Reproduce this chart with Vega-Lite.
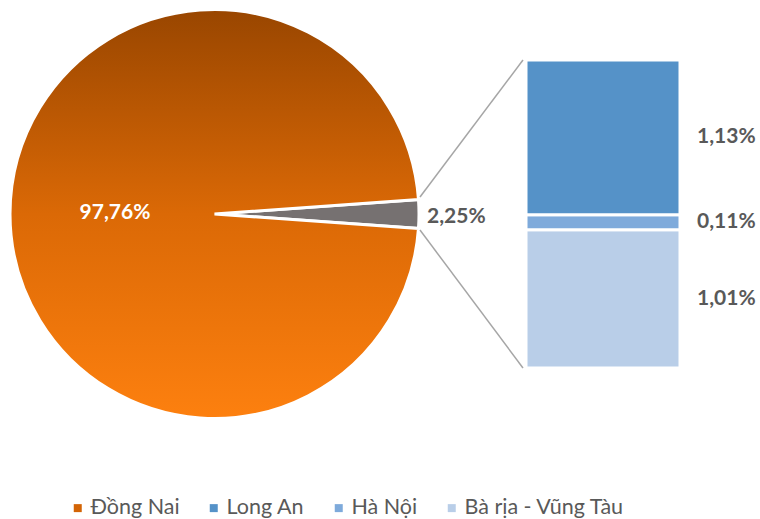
{
  "$schema": "https://vega.github.io/schema/vega-lite/v6.json",
  "width": 429,
  "height": 428,
  "autosize": {"type": "pad"},
  "padding": 0,
  "background": "white",
  "config": {"view": {"stroke": null}, "font": "Lato"},
  "datasets": {
    "tong": [
      {"ten": "Khác", "ty_le": 2.25, "nhan": "2,25%", "thu_tu": 1},
      {"ten": "Đồng Nai", "ty_le": 97.76, "nhan": "97,76%", "thu_tu": 2}
    ],
    "chi_tiet": [
      {"ten": "Bà rịa - Vũng Tàu", "ty_le": 1.01, "nhan": "1,01%", "nhom": "Khác", "thu_tu": 1},
      {"ten": "Hà Nội", "ty_le": 0.11, "nhan": "0,11%", "nhom": "Khác", "thu_tu": 2},
      {"ten": "Long An", "ty_le": 1.13, "nhan": "1,13%", "nhom": "Khác", "thu_tu": 3}
    ]
  },
  "resolve": {"scale": {"x": "independent"}},
  "layer": [
    {
      "data": {"name": "tong"},
      "mark": {"type": "arc", "outerRadius": 204.5, "stroke": "white", "strokeWidth": 3},
      "encoding": {
        "theta": {"field": "ty_le", "type": "quantitative", "stack": true, "scale": {"range": [1.50011, 7.7833]}},
        "order": {"field": "thu_tu", "type": "quantitative"},
        "detail": {"field": "ten", "type": "nominal"},
        "fill": {
          "condition": {
            "test": "datum.ten === 'Đồng Nai'",
            "value": {
              "gradient": "linear", "x1": 0, "y1": 0, "x2": 0, "y2": 1,
              "stops": [
                {"offset": 0, "color": "#994600"},
                {"offset": 0.5, "color": "#db6906"},
                {"offset": 1, "color": "#fd800f"}
              ]
            }
          },
          "value": "#767171"
        }
      }
    },
    {
      "data": {"name": "tong"},
      "mark": {"type": "text", "radius": 99.5, "dy": -1, "fontSize": 21, "fontWeight": "bold", "fill": "white", "align": "center", "baseline": "middle"},
      "encoding": {
        "theta": {"field": "ty_le", "type": "quantitative", "stack": true, "scale": {"range": [1.50011, 7.7833]}},
        "order": {"field": "thu_tu", "type": "quantitative"},
        "detail": {"field": "ten", "type": "nominal"},
        "text": {"condition": {"test": "datum.ten === 'Đồng Nai'", "field": "nhan"}, "value": ""}
      }
    },
    {
      "data": {"name": "tong"},
      "transform": [{"filter": "datum.ten !== 'Đồng Nai'"}],
      "mark": {"type": "text", "align": "left", "baseline": "middle", "dx": 7, "fontSize": 21, "fontWeight": "bold", "fill": "#595959"},
      "encoding": {
        "x": {"datum": 0, "type": "quantitative", "axis": null, "scale": {"domain": [0, 1], "range": [420, 523]}},
        "y": {"datum": 1.1, "type": "quantitative", "axis": null},
        "text": {"field": "nhan", "type": "nominal"}
      }
    },
    {
      "data": {"name": "chi_tiet"},
      "mark": {"type": "bar", "stroke": "white", "strokeWidth": 3},
      "encoding": {
        "x": {"field": "nhom", "type": "nominal", "axis": null, "scale": {"range": [526, 680], "paddingInner": 0, "paddingOuter": 0}},
        "y": {"field": "ty_le", "type": "quantitative", "stack": "zero", "axis": null, "scale": {"domain": [-0.4383, 2.6883], "nice": false, "zero": false}},
        "order": {"field": "thu_tu", "type": "quantitative"},
        "color": {
          "field": "ten", "type": "nominal",
          "scale": {"domain": ["Đồng Nai", "Long An", "Hà Nội", "Bà rịa - Vũng Tàu"], "range": ["#d36405", "#5592c8", "#7eaadb", "#b9cee8"]},
          "legend": {
            "orient": "none", "legendX": 67, "legendY": 497, "direction": "horizontal", "title": null,
            "symbolType": "square", "symbolSize": 64, "symbolStrokeWidth": 0,
            "labelFont": "Lato", "labelFontSize": 21.5, "labelColor": "#595959", "labelOffset": 2,
            "labelLimit": 300, "columnPadding": 23
          }
        }
      }
    },
    {
      "data": {"name": "chi_tiet"},
      "mark": {"type": "text", "align": "left", "baseline": "middle", "dx": 94, "fontSize": 21, "fontWeight": "bold", "fill": "#595959"},
      "encoding": {
        "x": {"field": "nhom", "type": "nominal", "axis": null, "scale": {"range": [526, 680], "paddingInner": 0, "paddingOuter": 0}},
        "y": {"field": "ty_le", "type": "quantitative", "stack": "zero", "bandPosition": 0.5, "axis": null},
        "order": {"field": "thu_tu", "type": "quantitative"},
        "detail": {"field": "ten", "type": "nominal"},
        "text": {"field": "nhan", "type": "nominal"}
      }
    },
    {
      "data": {"values": [{}]},
      "mark": {"type": "rule", "color": "#a6a6a6", "strokeWidth": 1.5},
      "encoding": {
        "x": {"datum": 0, "type": "quantitative", "axis": null, "scale": {"domain": [0, 1], "range": [420, 523]}},
        "x2": {"datum": 1},
        "y": {"datum": 1.249, "type": "quantitative", "axis": null},
        "y2": {"datum": 2.25}
      }
    },
    {
      "data": {"values": [{}]},
      "mark": {"type": "rule", "color": "#a6a6a6", "strokeWidth": 1.5},
      "encoding": {
        "x": {"datum": 0, "type": "quantitative", "axis": null, "scale": {"domain": [0, 1], "range": [420, 523]}},
        "x2": {"datum": 1},
        "y": {"datum": 1.008, "type": "quantitative", "axis": null},
        "y2": {"datum": 0}
      }
    }
  ]
}
